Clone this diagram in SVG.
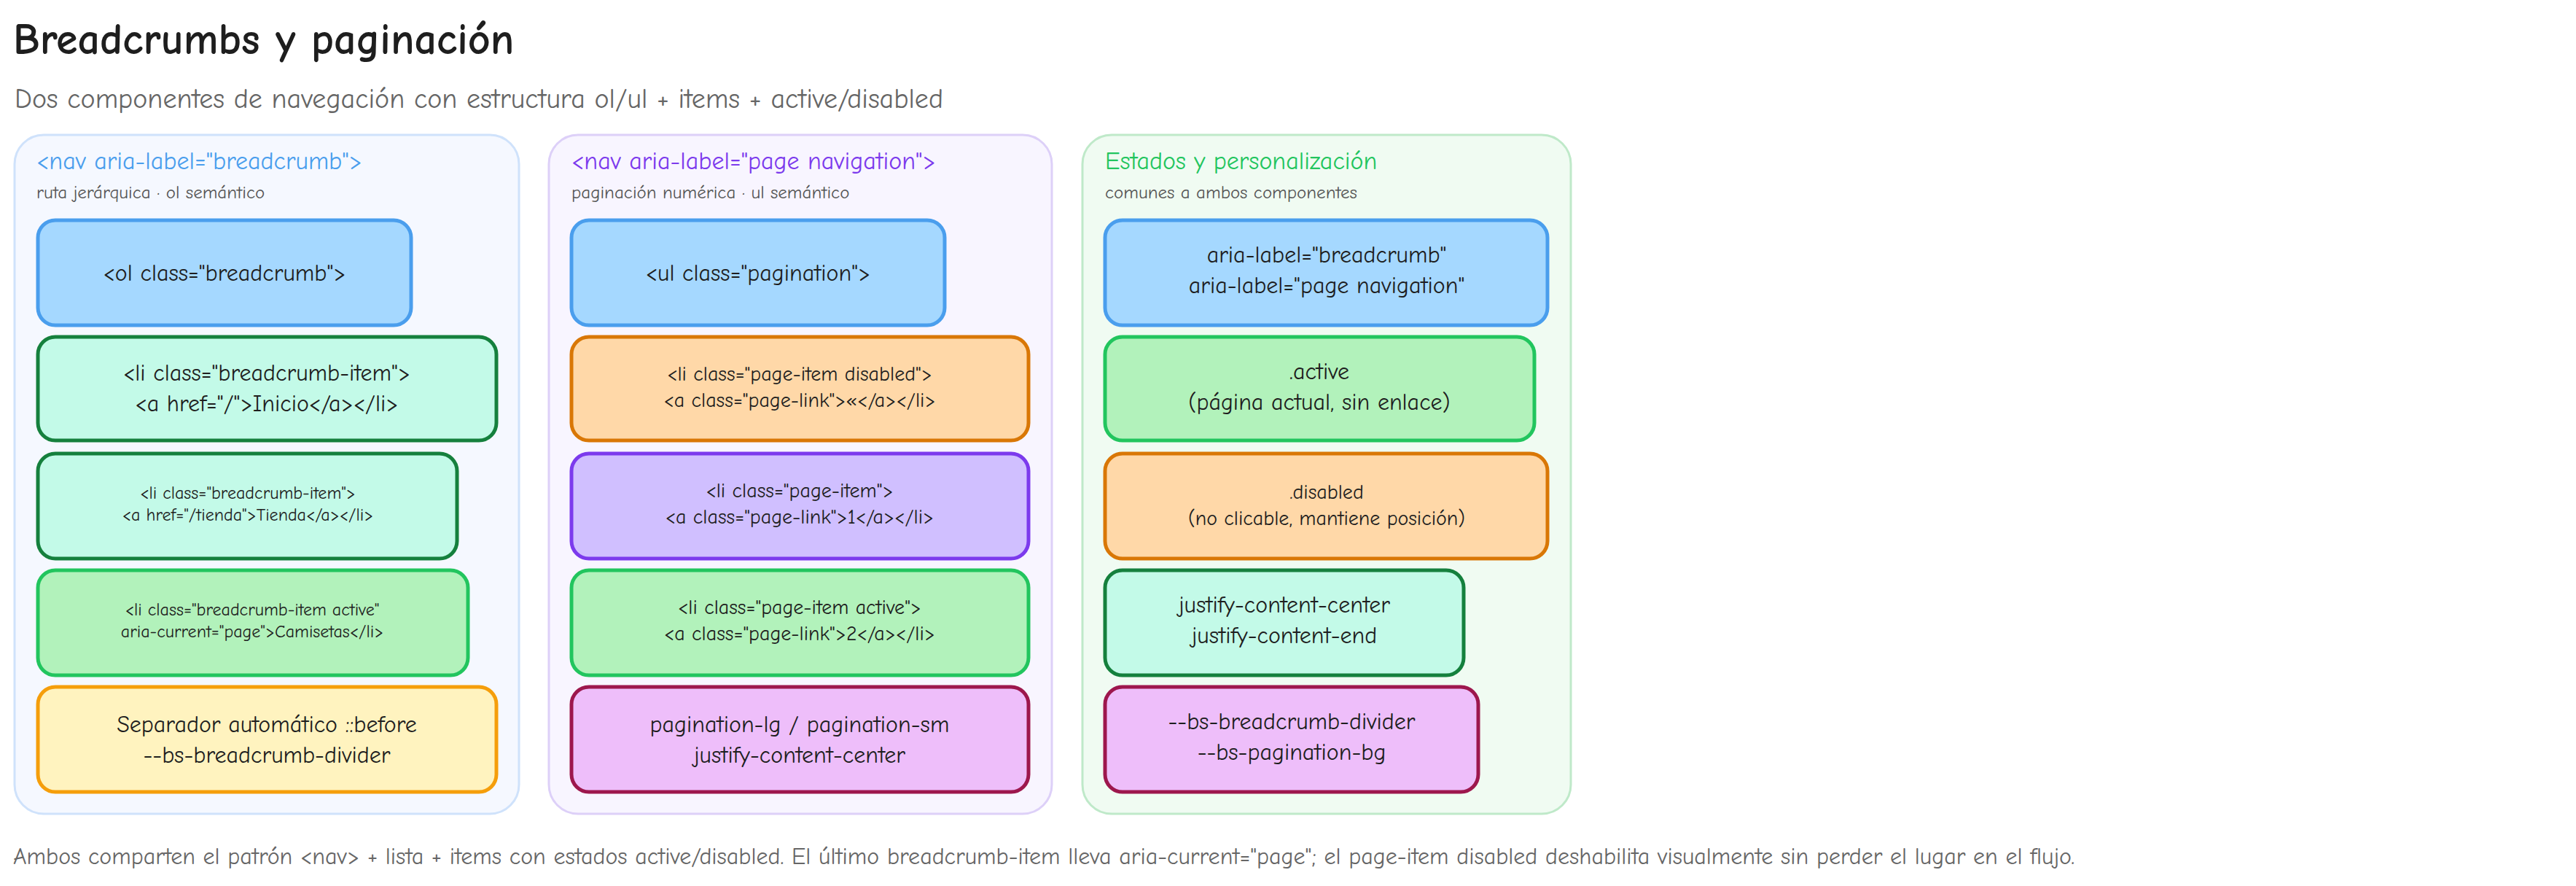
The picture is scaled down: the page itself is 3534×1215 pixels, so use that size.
<svg xmlns="http://www.w3.org/2000/svg" width="3534" height="1215" viewBox="0 0 3534 1215">
<style>
text{font-family:"Comic Neue","Liberation Sans",sans-serif;text-anchor:middle;fill:#1e1e1e}
.panel{stroke-width:3}
.node{stroke-width:5}
.blue{fill:#a5d8ff;stroke:#4a9eed}
.mint{fill:#c3fae8;stroke:#15803d}
.green{fill:#b2f2bb;stroke:#22c55e}
.yellow{fill:#fff3bf;stroke:#f59e0b}
.orange{fill:#ffd8a8;stroke:#d97706}
.purple{fill:#d0bfff;stroke:#7c3aed}
.pink{fill:#eebefa;stroke:#9d174d}
.h{text-anchor:start;font-size:34px}
.s{text-anchor:start;font-size:25px;fill:#555}
.t{font-size:32px}
.tm{font-size:28px}
.ts{font-size:24px}
</style>
<rect width="3534" height="1215" fill="#ffffff"/>
<text x="18" y="74" style="text-anchor:start;font-size:60px;font-weight:bold">Breadcrumbs y paginación</text>
<text x="20" y="148" style="text-anchor:start;font-size:38px;fill:#666">Dos componentes de navegación con estructura ol/ul + items + active/disabled</text>

<g id="panel-breadcrumb">
<rect class="panel" x="20" y="185" width="692" height="931" rx="40" fill="#f5f8ff" stroke="#cfe2fb"/>
<text class="h" x="50" y="232" style="fill:#4a9eed">&lt;nav aria-label="breadcrumb"&gt;</text>
<text class="s" x="50" y="272">ruta jerárquica · ol semántico</text>
</g>
<g id="panel-pagination">
<rect class="panel" x="753" y="185" width="690" height="931" rx="40" fill="#f8f5ff" stroke="#ddd0f8"/>
<text class="h" x="784" y="232" style="fill:#7c3aed">&lt;nav aria-label="page navigation"&gt;</text>
<text class="s" x="784" y="272">paginación numérica · ul semántico</text>
</g>
<g id="panel-estados">
<rect class="panel" x="1485" y="185" width="670" height="931" rx="40" fill="#f0fbf2" stroke="#bfe9c9"/>
<text class="h" x="1516" y="232" style="fill:#22c55e">Estados y personalización</text>
<text class="s" x="1516" y="272">comunes a ambos componentes</text>
</g>

<g id="connectors"></g>

<g id="ol"><rect class="node blue" x="52" y="302" width="512" height="144" rx="24"/>
<text class="t" x="308" y="385">&lt;ol class="breadcrumb"&gt;</text></g>
<g id="li1"><rect class="node mint" x="52" y="462" width="629" height="142" rx="24"/>
<text class="t" x="366" y="522">&lt;li class="breadcrumb-item"&gt;</text>
<text class="t" x="366" y="564">&lt;a href="/"&gt;Inicio&lt;/a&gt;&lt;/li&gt;</text></g>
<g id="li2"><rect class="node mint" x="52" y="622" width="575" height="144" rx="24"/>
<text class="ts" x="340" y="684">&lt;li class="breadcrumb-item"&gt;</text>
<text class="ts" x="340" y="714">&lt;a href="/tienda"&gt;Tienda&lt;/a&gt;&lt;/li&gt;</text></g>
<g id="li3"><rect class="node green" x="52" y="782" width="590" height="144" rx="24"/>
<text class="ts" x="346" y="844">&lt;li class="breadcrumb-item active"</text>
<text class="ts" x="346" y="874">aria-current="page"&gt;Camisetas&lt;/li&gt;</text></g>
<g id="sep"><rect class="node yellow" x="52" y="942" width="629" height="144" rx="24"/>
<text class="t" x="366" y="1004">Separador automático ::before</text>
<text class="t" x="366" y="1046">--bs-breadcrumb-divider</text></g>

<g id="ul"><rect class="node blue" x="784" y="302" width="512" height="144" rx="24"/>
<text class="t" x="1040" y="385">&lt;ul class="pagination"&gt;</text></g>
<g id="pi-disabled"><rect class="node orange" x="784" y="462" width="627" height="142" rx="24"/>
<text class="tm" x="1097" y="522">&lt;li class="page-item disabled"&gt;</text>
<text class="tm" x="1097" y="558">&lt;a class="page-link"&gt;«&lt;/a&gt;&lt;/li&gt;</text></g>
<g id="pi-1"><rect class="node purple" x="784" y="622" width="627" height="144" rx="24"/>
<text class="tm" x="1097" y="682">&lt;li class="page-item"&gt;</text>
<text class="tm" x="1097" y="718">&lt;a class="page-link"&gt;1&lt;/a&gt;&lt;/li&gt;</text></g>
<g id="pi-active"><rect class="node green" x="784" y="782" width="627" height="144" rx="24"/>
<text class="tm" x="1097" y="842">&lt;li class="page-item active"&gt;</text>
<text class="tm" x="1097" y="878">&lt;a class="page-link"&gt;2&lt;/a&gt;&lt;/li&gt;</text></g>
<g id="pg-size"><rect class="node pink" x="784" y="942" width="627" height="144" rx="24"/>
<text class="t" x="1097" y="1004">pagination-lg / pagination-sm</text>
<text class="t" x="1097" y="1046">justify-content-center</text></g>

<g id="aria"><rect class="node blue" x="1516" y="302" width="607" height="144" rx="24"/>
<text class="t" x="1820" y="360">aria-label="breadcrumb"</text>
<text class="t" x="1820" y="402">aria-label="page navigation"</text></g>
<g id="active"><rect class="node green" x="1516" y="462" width="589" height="142" rx="24"/>
<text class="t" x="1810" y="520">.active</text>
<text class="t" x="1810" y="562">(página actual, sin enlace)</text></g>
<g id="disabled"><rect class="node orange" x="1516" y="622" width="607" height="144" rx="24"/>
<text class="tm" x="1820" y="684">.disabled</text>
<text class="tm" x="1820" y="720">(no clicable, mantiene posición)</text></g>
<g id="justify"><rect class="node mint" x="1516" y="782" width="492" height="144" rx="24"/>
<text class="t" x="1762" y="840">justify-content-center</text>
<text class="t" x="1762" y="882">justify-content-end</text></g>
<g id="vars"><rect class="node pink" x="1516" y="942" width="512" height="144" rx="24"/>
<text class="t" x="1772" y="1000">--bs-breadcrumb-divider</text>
<text class="t" x="1772" y="1042">--bs-pagination-bg</text></g>

<text x="18" y="1185" style="text-anchor:start;font-size:32px;fill:#666">Ambos comparten el patrón &lt;nav&gt; + lista + items con estados active/disabled. El último breadcrumb-item lleva aria-current="page"; el page-item disabled deshabilita visualmente sin perder el lugar en el flujo.</text>
</svg>
